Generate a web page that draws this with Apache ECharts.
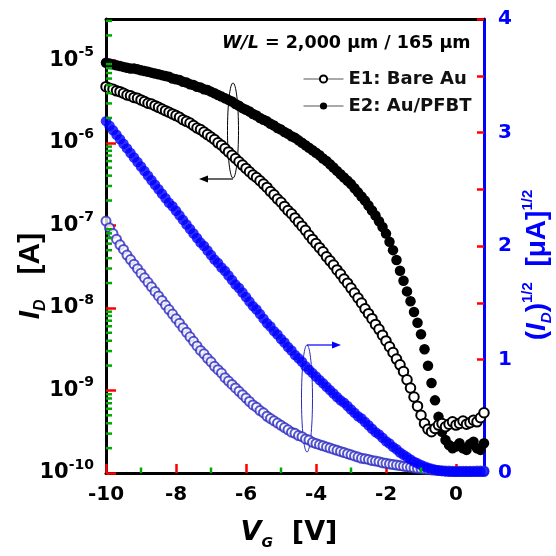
<!DOCTYPE html>
<html><head><meta charset="utf-8">
<script src="https://cdn.jsdelivr.net/npm/echarts@6/dist/echarts.min.js"></script>
<style>html,body{margin:0;padding:0;background:#fff}#c{width:556px;height:556px}</style>
</head><body><div id="c"></div>
<script>
const VG = [-10,-9.9,-9.8,-9.7,-9.6,-9.5,-9.4,-9.3,-9.2,-9.1,
-9,-8.9,-8.8,-8.7,-8.6,-8.5,-8.4,-8.3,-8.2,-8.1,
-8,-7.9,-7.8,-7.7,-7.6,-7.5,-7.4,-7.3,-7.2,-7.1,
-7,-6.9,-6.8,-6.7,-6.6,-6.5,-6.4,-6.3,-6.2,-6.1,
-6,-5.9,-5.8,-5.7,-5.6,-5.5,-5.4,-5.3,-5.2,-5.1,
-5,-4.9,-4.8,-4.7,-4.6,-4.5,-4.4,-4.3,-4.2,-4.1,
-4,-3.9,-3.8,-3.7,-3.6,-3.5,-3.4,-3.3,-3.2,-3.1,
-3,-2.9,-2.8,-2.7,-2.6,-2.5,-2.4,-2.3,-2.2,-2.1,
-2,-1.9,-1.8,-1.7,-1.6,-1.5,-1.4,-1.3,-1.2,-1.1,
-1,-0.9,-0.8,-0.7,-0.6,-0.5,-0.4,-0.3,-0.2,-0.1,
0,0.1,0.2,0.3,0.4,0.5,0.6,0.7,0.8];
const E1_LOG = [-5.32,-5.34,-5.35,-5.37,-5.38,-5.40,-5.42,-5.43,-5.45,-5.46,
-5.48,-5.50,-5.52,-5.53,-5.55,-5.57,-5.59,-5.61,-5.63,-5.65,
-5.67,-5.69,-5.72,-5.74,-5.76,-5.79,-5.82,-5.84,-5.87,-5.90,
-5.93,-5.96,-6.00,-6.03,-6.07,-6.11,-6.15,-6.19,-6.23,-6.27,
-6.31,-6.35,-6.39,-6.42,-6.46,-6.50,-6.54,-6.59,-6.63,-6.68,
-6.72,-6.77,-6.82,-6.86,-6.91,-6.96,-7.01,-7.06,-7.12,-7.17,
-7.22,-7.27,-7.32,-7.38,-7.43,-7.48,-7.54,-7.59,-7.65,-7.70,
-7.76,-7.82,-7.88,-7.94,-8.01,-8.07,-8.13,-8.20,-8.26,-8.33,
-8.40,-8.47,-8.54,-8.62,-8.69,-8.77,-8.87,-8.97,-9.08,-9.19,
-9.30,-9.40,-9.47,-9.50,-9.46,-9.42,-9.40,-9.44,-9.41,-9.38,
-9.42,-9.40,-9.37,-9.41,-9.39,-9.36,-9.38,-9.33,-9.27];
const E2_LOG = [-5.03,-5.04,-5.05,-5.06,-5.07,-5.08,-5.09,-5.10,-5.10,-5.11,
-5.12,-5.13,-5.14,-5.15,-5.16,-5.17,-5.18,-5.19,-5.20,-5.22,
-5.23,-5.24,-5.26,-5.27,-5.29,-5.30,-5.32,-5.33,-5.35,-5.36,
-5.38,-5.40,-5.42,-5.44,-5.46,-5.48,-5.50,-5.53,-5.55,-5.58,
-5.60,-5.62,-5.65,-5.67,-5.70,-5.72,-5.74,-5.77,-5.79,-5.82,
-5.84,-5.87,-5.89,-5.92,-5.94,-5.97,-6.00,-6.03,-6.06,-6.09,
-6.12,-6.15,-6.19,-6.22,-6.26,-6.30,-6.34,-6.38,-6.42,-6.46,
-6.50,-6.55,-6.60,-6.65,-6.70,-6.76,-6.82,-6.88,-6.95,-7.02,
-7.10,-7.20,-7.30,-7.42,-7.55,-7.67,-7.80,-7.92,-8.05,-8.18,
-8.32,-8.50,-8.70,-8.91,-9.12,-9.32,-9.50,-9.60,-9.66,-9.70,
-9.68,-9.64,-9.70,-9.72,-9.65,-9.62,-9.70,-9.72,-9.64];
const E1_SQRT = [2.22,2.16,2.11,2.06,2.01,1.97,1.92,1.88,1.84,1.80,
1.76,1.72,1.68,1.64,1.60,1.56,1.52,1.48,1.44,1.40,
1.36,1.32,1.28,1.24,1.20,1.16,1.12,1.08,1.05,1.01,
0.98,0.94,0.91,0.88,0.84,0.81,0.78,0.75,0.72,0.69,
0.66,0.63,0.60,0.58,0.55,0.53,0.50,0.48,0.46,0.44,
0.42,0.40,0.38,0.36,0.35,0.33,0.32,0.30,0.29,0.27,
0.26,0.25,0.24,0.23,0.22,0.21,0.20,0.19,0.18,0.17,
0.16,0.15,0.14,0.13,0.125,0.12,0.11,0.105,0.10,0.09,
0.085,0.08,0.075,0.07,0.065,0.06,0.055,0.05,0.045,0.04,
0.037,0.033,0.030,0.027,0.024,0.022,0.020,0.018,0.017,0.016,
0.015,0.015,0.016,0.015,0.016,0.016,0.017,0.017,0.018];
const E2_SQRT = [3.10,3.06,3.02,2.98,2.94,2.90,2.86,2.82,2.78,2.74,
2.70,2.66,2.62,2.58,2.54,2.50,2.46,2.42,2.38,2.35,
2.31,2.27,2.23,2.19,2.15,2.11,2.07,2.03,2.00,1.96,
1.92,1.88,1.85,1.81,1.78,1.74,1.70,1.66,1.63,1.59,
1.55,1.51,1.47,1.44,1.40,1.36,1.32,1.29,1.25,1.22,
1.18,1.15,1.11,1.08,1.04,1.01,0.98,0.94,0.91,0.88,
0.85,0.82,0.79,0.76,0.73,0.70,0.67,0.64,0.62,0.59,
0.56,0.53,0.50,0.48,0.45,0.42,0.39,0.36,0.34,0.31,
0.28,0.26,0.23,0.21,0.18,0.16,0.14,0.12,0.10,0.085,
0.07,0.058,0.047,0.037,0.029,0.022,0.017,0.014,0.012,0.011,
0.010,0.010,0.010,0.010,0.010,0.010,0.010,0.010,0.010];

const X_TICKS = [-10,-8,-6,-4,-2,0];
const X_MINOR = [-9,-7,-5,-3,-1];
const Y_DECADES = [-10,-9,-8,-7,-6,-5];
const Y_MINOR_MULT = [2,3,4,5,6,7,8,9];
const R_LABELS = [0,1,2,3,4];
const R_TICKS = [0,0.5,1,1.5,2,2.5,3,3.5,4];
const NAMES = ['E1: Bare Au','E2: Au/PFBT'];
const Y_MINOR = [];
Y_DECADES.forEach(n => Y_MINOR_MULT.forEach(k => { const v = n + Math.log10(k); if (v < -4.5) Y_MINOR.push(v); }));

const pairs = (xs, ys) => xs.map((x, i) => [x, ys[i]]);
const BLUE = '#0000ff';
const FF = 'DejaVu Sans';
const TEST = '#ff0000';

const annotations = [
  {type:'text', x:222, y:43, style:{text:'{i|W/L}{n| = 2,000 μm / 165 μm}', verticalAlign:'middle', align:'left',
    rich:{i:{fontFamily:FF, fontWeight:'bold', fontStyle:'italic', fontSize:17.5, fill:'#000'},
          n:{fontFamily:FF, fontWeight:'bold', fontSize:17.5, fill:'#000'}}}},
  {type:'ellipse', shape:{cx:233, cy:130.5, rx:5.5, ry:47.5}, style:{fill:'none', stroke:'#000', lineWidth:1}},
  {type:'polyline', shape:{points:[[233,179],[206,179]]}, style:{stroke:'#000', lineWidth:1.2, fill:'none'}},
  {type:'polygon', shape:{points:[[199,179],[208,175.5],[208,182.5]]}, style:{fill:'#000'}},
  {type:'ellipse', shape:{cx:307, cy:398.5, rx:5.5, ry:53.5}, style:{fill:'none', stroke:'#2a2ac0', lineWidth:1}},
  {type:'polyline', shape:{points:[[307,345],[333,345]]}, style:{stroke:BLUE, lineWidth:1.2, fill:'none'}},
  {type:'polygon', shape:{points:[[341,345],[332,341.5],[332,348.5]]}, style:{fill:BLUE}},
  {type:'text', x:31, y:276, rotation:Math.PI/2, style:{text:'{i|I}{sub|D}{n|   [A]}', align:'center', verticalAlign:'middle',
    rich:{i:{fontFamily:'Liberation Sans', fontWeight:'bold', fontStyle:'italic', fontSize:30, lineHeight:36, fill:'#000'},
          sub:{fontFamily:'Liberation Sans', fontWeight:'bold', fontStyle:'italic', fontSize:16, lineHeight:14, verticalAlign:'bottom', fill:'#000'},
          n:{fontFamily:'Liberation Sans', fontWeight:'bold', fontSize:30, lineHeight:36, fill:'#000'}}}},
  {type:'text', x:289, y:533, style:{text:'{i|V}{sub|G}{n|  [V]}', align:'center', verticalAlign:'middle',
    rich:{i:{fontFamily:FF, fontWeight:'bold', fontStyle:'italic', fontSize:27, lineHeight:34, fill:'#000'},
          sub:{fontFamily:FF, fontWeight:'bold', fontStyle:'italic', fontSize:14, lineHeight:12, verticalAlign:'bottom', fill:'#000'},
          n:{fontFamily:FF, fontWeight:'bold', fontSize:27, lineHeight:34, fill:'#000'}}}},
  {type:'text', x:537, y:265, rotation:Math.PI/2, style:{text:'{p|(}{i|I}{sub|D}{p|)}{sup|1/2}{p|  [μA]}{sup|1/2}', align:'center', verticalAlign:'middle',
    rich:{p:{fontFamily:'Liberation Sans', fontWeight:'bold', fontSize:28, lineHeight:34, fill:BLUE},
          i:{fontFamily:'Liberation Sans', fontWeight:'bold', fontStyle:'italic', fontSize:28, lineHeight:34, fill:BLUE},
          sub:{fontFamily:'Liberation Sans', fontWeight:'bold', fontStyle:'italic', fontSize:15, lineHeight:12, verticalAlign:'bottom', fill:BLUE},
          sup:{fontFamily:'Liberation Sans', fontWeight:'bold', fontSize:15, lineHeight:12, verticalAlign:'top', fill:BLUE}}}}
];

const chart = echarts.init(document.getElementById('c'));
chart.setOption({
  animation: false,
  grid: {left:106, right:72, top:19, bottom:83},
  xAxis: [
    {type:'value', position:'bottom', min:-10, max:0.8,
     axisLine:{show:true, onZero:false, lineStyle:{color:'#000', width:3}},
     axisTick:{show:true, inside:true, length:9, lineStyle:{color:TEST, width:2.5}, customValues:X_TICKS},
     axisLabel:{customValues:X_TICKS, margin:12, fontFamily:FF, fontWeight:'bold', fontSize:20, color:'#000'},
     splitLine:{show:false}},
    {type:'value', position:'top', min:-10, max:0.8,
     axisLine:{show:true, onZero:false, lineStyle:{color:'#000', width:3}},
     axisTick:{show:false}, axisLabel:{show:false}, splitLine:{show:false}}
  ],
  yAxis: [
    {type:'value', position:'left', min:-10, max:-4.5,
     axisLine:{show:true, onZero:false, lineStyle:{color:'#000', width:3}},
     axisTick:{show:true, inside:true, length:10, lineStyle:{color:TEST, width:2.5}, customValues:Y_DECADES},
     axisLabel:{customValues:Y_DECADES, margin:12,
       formatter: v => '{b|10}{s|' + Math.round(v) + '}',
       rich:{b:{fontFamily:FF, fontWeight:'bold', fontSize:21, lineHeight:30, color:'#000'},
             s:{fontFamily:FF, fontWeight:'bold', fontSize:14, lineHeight:12, verticalAlign:'top', color:'#000'}}},
     splitLine:{show:false}},
    {type:'value', position:'right', min:0, max:4,
     axisLine:{show:true, onZero:false, lineStyle:{color:BLUE, width:3}},
     axisTick:{show:true, inside:true, length:7, lineStyle:{color:TEST, width:2.5}, customValues:R_TICKS},
     axisLabel:{customValues:R_LABELS, margin:14, fontFamily:FF, fontWeight:'bold', fontSize:20, color:BLUE},
     splitLine:{show:false}}
  ],
  legend: {
    data: NAMES, orient:'vertical', left:298, top:65, itemWidth:40, itemHeight:9, itemGap:9,
    selectedMode:false,
    textStyle:{fontFamily:FF, fontWeight:'bold', fontSize:18, color:'#111', lineHeight:18},
    lineStyle:{color:'#555', width:1, opacity:1}
  },
  series: [
    {name:'E1 sqrt', type:'scatter', xAxisIndex:0, yAxisIndex:1, data:pairs(VG, E1_SQRT),
     symbol:'emptyCircle', symbolSize:9, itemStyle:{color:'#2a2ac0', borderWidth:1.2}, silent:true},
    {name:'E2 sqrt', type:'scatter', xAxisIndex:0, yAxisIndex:1, data:pairs(VG, E2_SQRT),
     symbol:'circle', symbolSize:10.5, itemStyle:{color:BLUE}, silent:true},
    {name:NAMES[1], type:'line', xAxisIndex:0, yAxisIndex:0, data:pairs(VG, E2_LOG),
     symbol:'circle', symbolSize:10.5, showSymbol:true, itemStyle:{color:'#000'},
     lineStyle:{opacity:0, width:1}, silent:true},
    {name:NAMES[0], type:'line', xAxisIndex:0, yAxisIndex:0, data:pairs(VG, E1_LOG),
     symbol:'emptyCircle', symbolSize:9.5, showSymbol:true, itemStyle:{color:'#000', borderWidth:2},
     lineStyle:{opacity:0, width:1}, silent:true}
  ],
  graphic: annotations
});

const gx = v => chart.convertToPixel({xAxisIndex:0}, v);
const gyL = v => chart.convertToPixel({yAxisIndex:0}, v);
const gyR = v => chart.convertToPixel({yAxisIndex:1}, v);
const xLeft = gx(-10), xRight = gx(0.8), yBottom = gyL(-10);
const seg = (x1, y1, x2, y2, c) => ({type:'line', z:50, silent:true,
  shape:{x1:x1, y1:y1, x2:x2, y2:y2}, style:{stroke:c, lineWidth:2.5}});
const ticks = [];
X_MINOR.forEach(v => ticks.push(seg(gx(v), yBottom, gx(v), yBottom - 5.5, '#00aa00')));
Y_MINOR.forEach(v => ticks.push(seg(xLeft, gyL(v), xLeft + 6, gyL(v), '#00aa00')));
chart.setOption({graphic: annotations.concat(ticks)});
</script></body></html>
